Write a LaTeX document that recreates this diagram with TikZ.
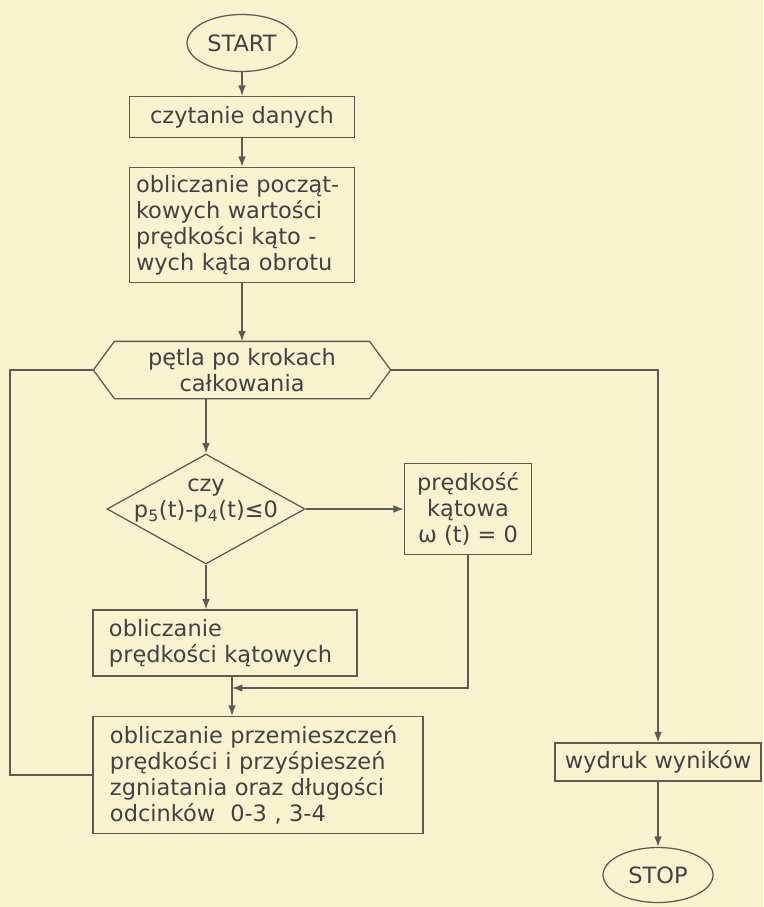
\documentclass[tikz,border=0pt]{standalone}
\usepackage{fontspec}
\setmainfont{DejaVu Sans}
\usetikzlibrary{arrows.meta,positioning,calc,shapes.geometric}
\definecolor{papier}{RGB}{250,243,207}
\definecolor{olowek}{RGB}{95,90,86}
\definecolor{tusz}{RGB}{68,64,68}

\begin{document}
\begin{tikzpicture}[
    x=0.25mm, y=-0.25mm,
    font=\fontsize{16}{18.5}\selectfont,
    >={Latex[length=2.6mm,width=1.9mm]},
    line/.style={olowek, line width=0.9pt},
    blok/.style={
        draw=olowek,
        line width=0.9pt,
        text=tusz,
        inner sep=0pt,
        align=center
    },
    tekst/.style={text=tusz, align=center},
    owal/.style={blok, ellipse},
    decyzja/.style={blok, diamond}
]

% Background
\fill[papier] (0,0) rectangle (763,907);

% =====================================================
% MAIN CHAIN
% =====================================================

\node[owal, minimum width=27.5mm, minimum height=14.25mm] (start) at (242,43) {START};
\node[blok, minimum width=56.25mm, minimum height=10.25mm] (czyt) at (242,117) {czytanie danych};
\node[blok, align=left, text width=53mm, inner xsep=1.6mm, minimum height=28.75mm] (poczatek) at (242,225)
    {obliczanie począt-\\kowych wartości\\prędkości kąto -\\wych kąta obrotu};

\draw[line, ->] (start) -- (czyt);
\draw[line, ->] (czyt) -- (poczatek);

% Loop
\node[blok, draw=none, minimum width=63.5mm, minimum height=14mm] (petla) at (242,370)
    {pętla po krokach\\całkowania};
\draw[line] (petla.north west) -- (petla.north east)
    -- ($(petla.east)+(21,0)$) coordinate (petlaR)
    -- (petla.south east) -- (petla.south west)
    -- ($(petla.west)+(-21,0)$) coordinate (petlaL) -- cycle;

\draw[line, ->] (poczatek) -- (petla);

% Decision
\node[decyzja, minimum width=49.5mm, minimum height=27.5mm,
    label={[tekst, yshift=2mm]center:{czy\\p\textsubscript{5}(t)-p\textsubscript{4}(t)≤0}}] (czy) at (206,509) {};
\node[blok, minimum width=31.75mm, minimum height=22.75mm] (katowa) at (468,509)
    {prędkość\\kątowa\\ω (t) = 0};
\node[blok, align=left, text width=58mm, inner xsep=4mm, minimum height=16.5mm] (predk) at (225,643)
    {obliczanie\\prędkości kątowych};

\draw[line, ->] (petla.south -| czy.north) -- (czy.north);
\draw[line, ->] (czy.east) -- (katowa.west);
\draw[line, ->] (czy.south) -- (czy.south |- predk.north);

% Merge
\coordinate (laczenie) at (232,688);
\node[blok, align=left, text width=74mm, inner xsep=4.25mm, minimum height=29.25mm] (calk) at (258,775)
    {obliczanie przemieszczeń\\prędkości i przyśpieszeń\\zgniatania oraz długości\\odcinków \ 0-3 , 3-4};

\draw[line, ->] (katowa.south) |- (laczenie);
\draw[line, ->] (predk.south -| laczenie) -- (laczenie |- calk.north);

% Back to loop
\coordinate (zwrot) at (10,0);
\draw[line] (calk.west) -| (zwrot |- petlaL) -- (petlaL);

% =====================================================
% OUTPUT
% =====================================================

\node[blok, minimum width=51.5mm, minimum height=9.5mm] (wydruk) at (658,762) {wydruk wyników};
\node[owal, minimum width=27.5mm, minimum height=13.75mm] (stop) at (658,875) {STOP};

\draw[line, ->] (petlaR) -| (wydruk.north);
\draw[line, ->] (wydruk) -- (stop);

\end{tikzpicture}
\end{document}
